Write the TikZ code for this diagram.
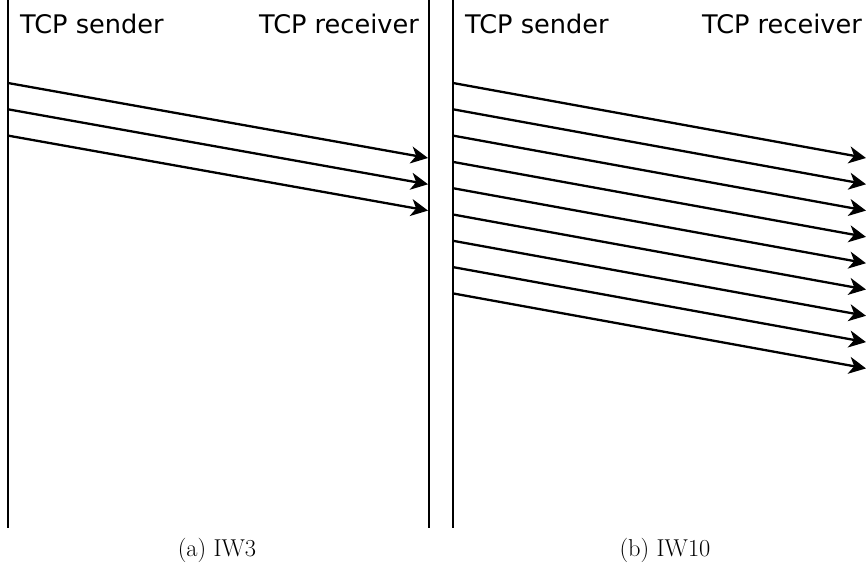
\documentclass[tikz,border=0pt]{standalone}
\usepackage{fontspec}
\newfontfamily\dejavu{DejaVu Sans}
\usetikzlibrary{arrows.meta}
\begin{document}
\begin{tikzpicture}[x=1pt,y=-1pt,
  lifeline/.style={line width=2.4pt},
  msg/.style={line width=2.3pt,-{Stealth[length=17pt,width=17pt,inset=5pt]}},
  hdr/.style={font=\dejavu\fontsize{25.6}{30}\selectfont,inner sep=0pt},
  captxt/.style={font=\fontsize{24.4}{28}\selectfont,inner sep=0pt}]
\useasboundingbox (0,0) rectangle (867,568);
% lifelines
\coordinate (s1top) at (8,0); \coordinate (s1bot) at (8,528);
\coordinate (r1top) at (429,0); \coordinate (r1bot) at (429,528);
\coordinate (s2top) at (453,0); \coordinate (s2bot) at (453,528);
\draw[lifeline] (s1top) -- (s1bot);
\draw[lifeline] (r1top) -- (r1bot);
\draw[lifeline] (s2top) -- (s2bot);
% headers
\node[hdr,anchor=base west] (hs1) at (20,33) {TCP sender};
\node[hdr,anchor=base east] (hr1) at (419,33) {TCP receiver};
\node[hdr,anchor=base west] (hs2) at (465,33) {TCP sender};
\node[hdr,anchor=base east] (hr2) at (862,33) {TCP receiver};
% IW3
\foreach \i in {0,1,2}{
  \coordinate (a\i) at (8,{83+26.3*\i});
  \coordinate (b\i) at (428,{158+26.3*\i});
  \draw[msg] (a\i) -- (b\i);
}
% IW10
\foreach \i in {0,...,8}{
  \coordinate (c\i) at (453,{83+26.3*\i});
  \coordinate (d\i) at (866,{158+26.3*\i});
  \draw[msg] (c\i) -- (d\i);
}
% captions
\node[captxt,anchor=base] (capa) at (217,556) {(a) IW3};
\node[captxt,anchor=base] (capb) at (665,556) {(b) IW10};
\end{tikzpicture}
\end{document}
